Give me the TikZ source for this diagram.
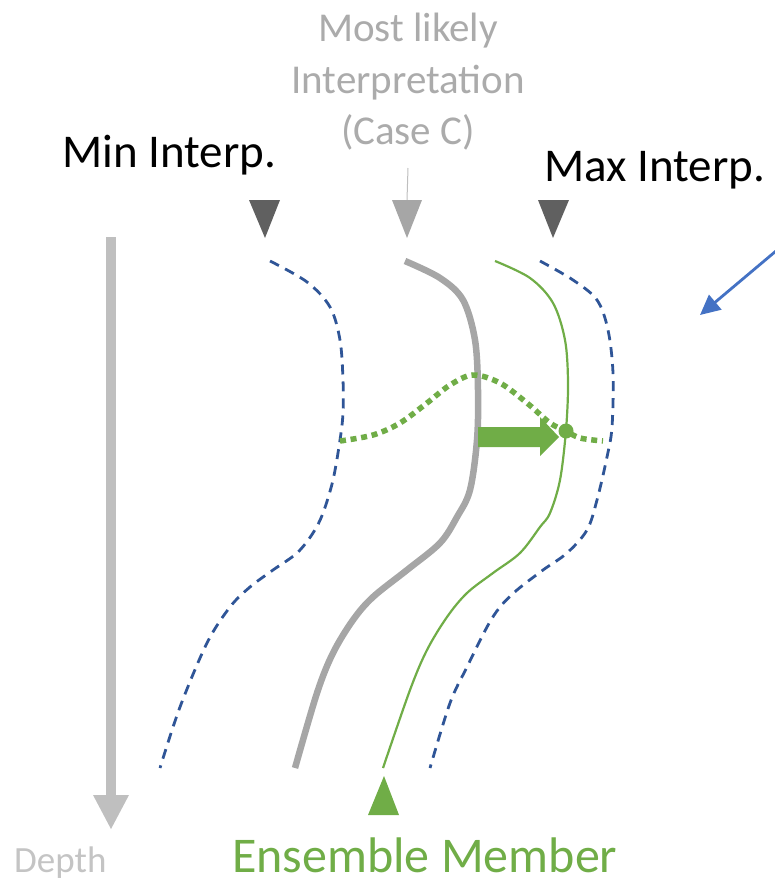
\documentclass[tikz,border=0pt]{standalone}
\usepackage{fontspec}
\setmainfont{Carlito}
\usetikzlibrary{arrows.meta}
\definecolor{egreen}{HTML}{70AD47}
\definecolor{dblue}{HTML}{2F5597}
\definecolor{lblue}{HTML}{4472C4}
\definecolor{mgray}{HTML}{A6A6A6}
\definecolor{dgray}{HTML}{606060}
\definecolor{lgray}{HTML}{BFBFBF}
\definecolor{tgray}{HTML}{ABABAB}
\definecolor{depthgray}{HTML}{C4C4C4}
\begin{document}
\begin{tikzpicture}[x=1pt,y=-1pt,
  lbl/.style={inner sep=0pt, anchor=base},
  bigtxt/.style={lbl, font=\fontsize{47}{56}\selectfont},
  mltxt/.style={lbl, font=\fontsize{41}{50}\selectfont, text=tgray},
  bound/.style={dblue, line width=2.8pt, dash pattern=on 10pt off 7pt},
  mostlikely/.style={mgray, line width=6.5pt},
  member/.style={egreen, line width=2.2pt},
  tri/.style={draw=none}
]
\useasboundingbox (0,0) rectangle (774,883);

% texts
\node[mltxt] (t1) at (408,42) {Most likely};
\node[mltxt] (t2) at (408,93) {Interpretation};
\node[mltxt] (t3) at (408,144) {(Case C)};
\node[bigtxt, anchor=base west] (tmin) at (62,167) {Min Interp.};
\node[bigtxt, anchor=base west] (tmax) at (544,181) {Max Interp.};
\node[lbl, anchor=base west, font=\fontsize{37}{42}\selectfont, text=depthgray] (tdepth) at (14,872) {Depth};
\node[lbl, anchor=base west, font=\fontsize{50}{60}\selectfont, text=egreen] (tens) at (232,872) {Ensemble Member};

% pointer from Case C
\coordinate (cc) at (408,168);
\coordinate (mtop) at (407,200);
\draw[lgray, line width=1pt] (cc) -- (mtop);

% triangles
\fill[dgray] (249,200) -- (280,200) -- (265,238) -- cycle;
\fill[mgray] (392,200) -- (422,200) -- (407,238) -- cycle;
\fill[dgray] (538,200) -- (569,200) -- (553,238) -- cycle;
\fill[egreen] (368,815) -- (399,815) -- (384,776) -- cycle;

% depth arrow
\draw[lgray, line width=10.5pt] (111,237) -- (111,796);
\fill[lgray] (93,795) -- (129,795) -- (111,829) -- cycle;

% blue pointer arrow
\coordinate (bs) at (776,251);
\coordinate (be) at (700,315);
\draw[lblue, line width=2.8pt, -{Triangle[length=20pt,width=19pt]}] (bs) -- (be);

% left bound
\draw[bound] plot[smooth, tension=0.55] coordinates {
 (270,261) (307,282) (330,307) (340,340) (343,380) (343,413) (340,440)
 (333,480) (323,513) (313,533) (297,553) (273,570) (250,587) (230,607)
 (207,643) (180,707) (160,768)};

% right bound
\draw[bound] plot[smooth, tension=0.55] coordinates {
 (540,261) (573,280) (597,300) (608,330) (613,373) (612,427) (607,457)
 (597,500) (587,530) (567,553) (543,570) (517,590) (500,607) (487,627)
 (467,667) (450,703) (430,768)};

% most likely
\draw[mostlikely] plot[smooth, tension=0.55] coordinates {
 (405,261) (440,278) (463,300) (475,340) (478,390) (477,440) (470,490)
 (457,517) (440,543) (407,570) (373,597) (353,620) (333,653) (317,693)
 (295,768)};

% ensemble member
\draw[member] plot[smooth, tension=0.55] coordinates {
 (495,261) (530,278) (553,303) (565,340) (568,383) (566,430) (560,480)
 (550,513) (540,527) (520,553) (493,573) (467,593) (447,617) (427,650)
 (410,690) (383,768)};

% dotted distribution
\draw[egreen, line width=5.5pt, dash pattern=on 6pt off 4.7pt] plot[smooth, tension=0.55] coordinates {
 (340,441) (373,435) (400,423) (427,403) (450,385) (473,375) (500,383)
 (527,403) (550,423) (566,431) (580,438) (603,441)};

% shift arrow
\fill[egreen] (478,427) -- (540,427) -- (540,417) -- (559,437) -- (540,456)
  -- (540,447) -- (478,447) -- cycle;
\fill[egreen] (566,431) circle (7.5);
\end{tikzpicture}
\end{document}
